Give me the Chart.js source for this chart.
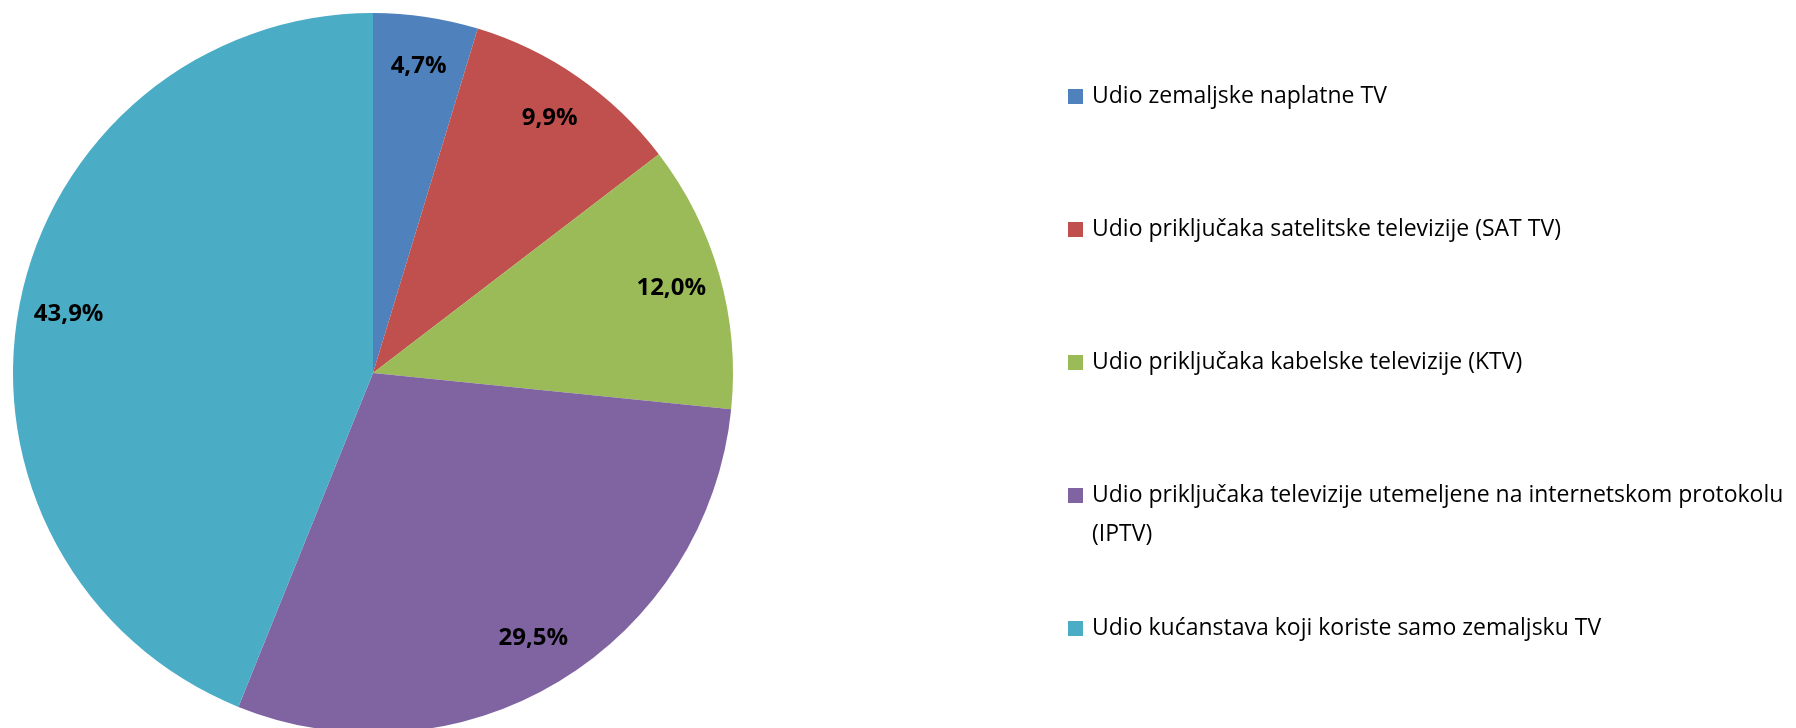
<!DOCTYPE html>
<html lang="hr">

<head>
  <meta charset="UTF-8">
  <title>Udio priključaka</title>
  <style>
    * {
      margin: 0;
      padding: 0;
    }

    body {
      background: #ffffff;
      overflow: hidden;
    }

    .chartBox {
      width: 1796px;
      height: 746px;
    }
  </style>
</head>

<body>
  <div class="chartBox">
    <canvas id="myChart"></canvas>
  </div>
  <script src="https://cdn.jsdelivr.net/npm/chart.js@4.4.1/dist/chart.umd.min.js"></script>
  <script>
    const categories = [
      "Udio zemaljske naplatne TV",
      "Udio priključaka satelitske televizije (SAT TV)",
      "Udio priključaka kabelske televizije (KTV)",
      "Udio priključaka televizije utemeljene na internetskom protokolu (IPTV)",
      "Udio kućanstava koji koriste samo zemaljsku TV"
    ];
    const shares = [4.7, 9.9, 12.0, 29.5, 43.9];
    const sliceColors = ["#4F81BD", "#C0504D", "#9BBB59", "#8064A2", "#4BACC6"];

    const fmt = (v) => v.toFixed(1).replace(".", ",") + "%";

    // percentage labels inside each slice, near the rim
    const sliceLabels = {
      id: "sliceLabels",
      afterDatasetsDraw(chart) {
        const ctx = chart.ctx;
        const meta = chart.getDatasetMeta(0);
        ctx.save();
        ctx.font = "bold 24px 'Open Sans'";
        ctx.fillStyle = "#000000";
        ctx.textAlign = "center";
        ctx.textBaseline = "middle";
        meta.data.forEach((arc, i) => {
          const p = arc.getProps(["x", "y", "startAngle", "endAngle", "outerRadius"], true);
          const mid = (p.startAngle + p.endAngle) / 2;
          const r = p.outerRadius - 50;
          ctx.fillText(fmt(chart.data.datasets[0].data[i]), p.x + Math.cos(mid) * r, p.y + Math.sin(mid) * r);
        });
        ctx.restore();
      }
    };

    // legend on the right, entries evenly spaced, long text wraps
    const sideLegend = {
      id: "sideLegend",
      afterDraw(chart) {
        const ctx = chart.ctx;
        const ds = chart.data.datasets[0];
        const boxX = 1068, textX = 1092, maxW = 1796 - textX - 4;
        const top = 96.5, step = 133, lineH = 39;
        ctx.save();
        ctx.font = "23px 'Open Sans'";
        ctx.textBaseline = "middle";
        chart.data.labels.forEach((label, i) => {
          const y = top + i * step;
          ctx.fillStyle = ds.backgroundColor[i];
          ctx.fillRect(boxX, y - 7.5, 15, 15);
          ctx.fillStyle = "#000000";
          const words = label.split(" ");
          let line = "", n = 0;
          words.forEach(w => {
            const test = line ? line + " " + w : w;
            if (ctx.measureText(test).width > maxW && line) {
              ctx.fillText(line, textX, y + n * lineH);
              line = w;
              n++;
            } else {
              line = test;
            }
          });
          ctx.fillText(line, textX, y + n * lineH);
        });
        ctx.restore();
      }
    };

    const data = {
      labels: categories,
      datasets: [{
        data: shares,
        backgroundColor: sliceColors,
        borderWidth: 0,
        hoverOffset: 0
      }]
    };

    const options = {
      responsive: true,
      maintainAspectRatio: false,
      animation: false,
      layout: {
        padding: { left: 13, top: 13, right: 1063, bottom: 13 }
      },
      plugins: {
        legend: { display: false },
        tooltip: { enabled: false }
      }
    };

    const myChart = new Chart(document.getElementById("myChart"), {
      type: "pie",
      data: data,
      options: options,
      plugins: [sliceLabels, sideLegend]
    });
  </script>
</body>

</html>
